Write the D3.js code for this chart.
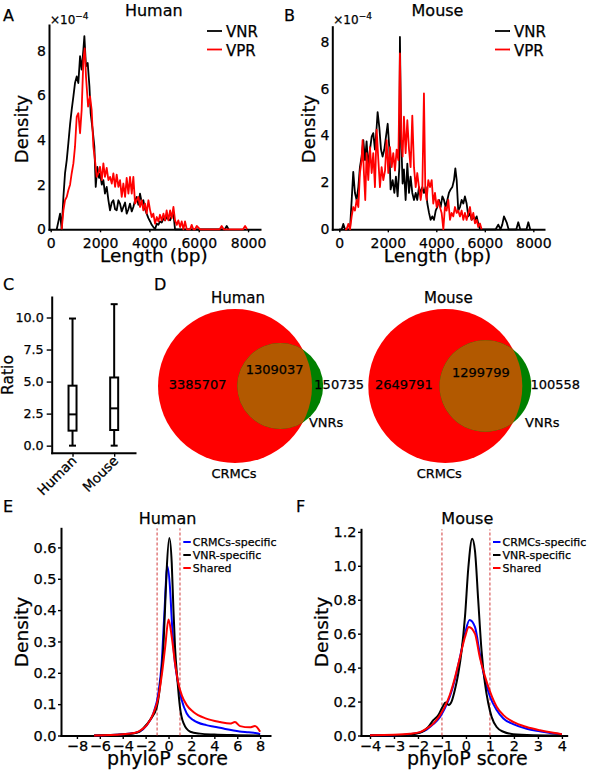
<!DOCTYPE html>
<html>
<head>
<meta charset="utf-8">
<script src="https://cdn.jsdelivr.net/npm/d3@7"></script>
<style>
  body { margin: 0; background: #fff; }
  svg text { font-family: "DejaVu Sans", sans-serif; fill: #000; stroke: #000; stroke-width: 0.25px; }
</style>
</head>
<body>
<svg id="fig" width="602" height="779"></svg>
<script>
// ---------------- data ----------------

// A / B: length density, [length bp, density x1e-4]
const humanVNR = [[245,0],[380,0.7],[445,0],[515,1.45],[580,2.5],[650,3.1],[715,3.85],[785,4.7],[850,5.35],[920,5.95],[985,6.55],[1055,6.85],[1120,6.55],[1190,7.75],[1255,7.15],[1325,8.05],[1365,8.65],[1430,7.3],[1500,7.45],[1570,6.4],[1620,5.2],[1700,4.45],[1770,3.7],[1825,1.9],[1890,2.8],[1960,2.3],[2000,2.5],[2070,2.0],[2135,2.2],[2200,1.6],[2270,1.9],[2340,1.3],[2405,0.85],[2475,1.2],[2540,1.3],[2610,0.9],[2675,0.85],[2745,1.3],[2810,1.15],[2880,0.8],[2945,1.0],[3015,1.2],[3080,0.7],[3150,0.9],[3215,1.15],[3285,0.8],[3350,1.0],[3420,1.3],[3485,1.45],[3555,1.1],[3620,1.6],[3690,1.2],[3755,1.3],[3825,0.9],[3890,0.7],[3960,0.5],[4030,0.35],[4095,0.2],[4160,0.1],[4230,0],[4300,0.25],[4365,0.2],[4430,0.35],[4500,0.3],[4570,0.5],[4635,0.4],[4700,0.55],[4770,0.45],[4840,0.4],[4905,0.6],[4975,0.7],[5040,0],[7060,0],[7135,0.15],[7210,0]];
const humanVPR = [[445,0],[515,0.85],[580,1.3],[650,1.45],[715,1.75],[785,2.0],[850,2.5],[920,2.95],[985,3.7],[1055,5.05],[1120,5.2],[1190,4.3],[1255,5.35],[1325,7.6],[1380,8.1],[1430,6.85],[1515,5.5],[1595,5.95],[1660,5.35],[1730,3.7],[1795,3.1],[1865,2.35],[1930,2.5],[2000,2.8],[2070,2.2],[2135,2.95],[2200,2.35],[2270,2.75],[2340,2.2],[2405,2.35],[2475,2.05],[2540,2.5],[2610,1.9],[2675,2.45],[2745,1.9],[2810,2.2],[2880,1.45],[2945,2.05],[3015,1.45],[3080,2.3],[3150,1.6],[3215,2.35],[3285,1.6],[3350,2.35],[3420,1.15],[3485,1.3],[3555,1.45],[3620,1.0],[3690,1.3],[3755,0.85],[3825,1.15],[3890,0.7],[3960,1.3],[4030,0.85],[4095,0.55],[4160,0.7],[4230,0.25],[4300,0.55],[4365,0.35],[4430,0.65],[4500,0.4],[4570,0.7],[4635,0.4],[4700,0.85],[4770,0.4],[4840,0.85],[4905,0.5],[4975,1.0],[5040,0.4],[5110,0.2],[5175,0.4],[5245,0.1],[5310,0.35],[5380,0],[5445,0.35],[5515,0],[5650,0],[5715,0.2],[5780,0],[5850,0],[5920,0.15],[6055,0],[6850,0],[6930,0.15],[7010,0],[7800,0],[7880,0.15],[7960,0]];
const mouseVNR = [[0,0],[100,0],[165,0.23],[235,0],[440,0],[510,1.25],[575,2.45],[645,1.55],[715,1.25],[785,1.8],[850,2.65],[920,3.1],[990,3.8],[1060,2.95],[1125,3.75],[1195,2.65],[1265,3.4],[1335,3.95],[1400,4.1],[1470,3.4],[1540,4.35],[1580,5.0],[1650,4.35],[1720,3.4],[1785,3.1],[1855,3.4],[1925,3.95],[1995,4.5],[2060,3.5],[2115,1.7],[2200,2.1],[2270,1.55],[2335,2.25],[2405,1.4],[2475,2.65],[2500,8.2],[2545,4.1],[2610,1.95],[2665,2.55],[2735,1.25],[2805,2.8],[2875,1.55],[2940,2.25],[3010,1.55],[3080,1.25],[3150,1.55],[3215,1.25],[3285,1.8],[3355,1.55],[3425,1.8],[3490,1.55],[3560,1.8],[3630,1.1],[3700,0.7],[3765,0.4],[3835,0.55],[3905,0.4],[3975,0.8],[4040,0.95],[4110,1.25],[4180,0.95],[4250,1.4],[4315,1.25],[4385,0.95],[4455,1.25],[4520,1.55],[4590,1.7],[4660,1.8],[4730,2.1],[4785,2.6],[4840,2.1],[4905,0.8],[4975,0.95],[5045,1.25],[5115,1.1],[5180,1.4],[5250,1.1],[5320,0.55],[5390,0.7],[5455,0.4],[5525,0.55],[5595,0.4],[5665,0.55],[5730,0.25],[5800,0],[6450,0],[6555,0.2],[6650,0],[6720,0.2],[6790,0.55],[6900,0.3],[6980,0],[7300,0],[7380,0.3],[7460,0],[7720,0],[7795,0.3],[7870,0]];
const mouseVPR = [[235,0],[300,0],[370,0.23],[440,0],[510,0.55],[575,0.95],[645,0.8],[715,1.25],[785,0.95],[850,2.4],[920,2.95],[960,3.8],[1015,2.4],[1070,1.25],[1125,3.25],[1195,2.1],[1265,3.5],[1335,2.4],[1400,3.25],[1470,1.8],[1540,4.25],[1610,2.95],[1675,1.8],[1745,2.65],[1815,2.1],[1885,2.5],[1950,3.8],[2020,2.4],[2090,3.5],[2160,2.65],[2225,3.25],[2295,2.5],[2365,3.4],[2435,2.95],[2500,7.5],[2555,3.8],[2610,3.1],[2665,4.8],[2735,3.25],[2805,4.65],[2875,3.4],[2940,2.65],[3010,4.85],[3080,2.65],[3150,1.8],[3215,2.4],[3285,1.8],[3355,1.25],[3425,1.8],[3490,5.8],[3545,1.8],[3600,1.25],[3670,2.1],[3740,1.8],[3810,2.1],[3875,1.1],[3945,1.55],[4015,0.95],[4080,1.25],[4150,0.95],[4220,0.7],[4290,0],[4355,0.95],[4425,0.8],[4495,1.25],[4565,0.4],[4630,0.7],[4700,0.55],[4770,0.95],[4840,0.7],[4905,0.8],[4975,0.55],[5045,0.8],[5115,0.4],[5180,0.7],[5250,0.4],[5320,0.7],[5390,0.95],[5455,0.4],[5525,0.7],[5595,0.25],[5665,0.4],[5730,0.1],[5800,0.25],[5870,0]];
const lengthSeries = ["VNR", "VPR"];
const lengthTicks = [0, 2000, 4000, 6000, 8000];
const densityTicks = [0, 2, 4, 6, 8];

// C: ratio box plots
const boxGroups = ["Human", "Mouse"];
const boxStats = [
  { min: 0, q1: 1.17, median: 2.44, q3: 4.68, max: 9.92 },
  { min: 0, q1: 1.22, median: 2.91, q3: 5.32, max: 11.04 }
];
const ratioTicks = [0, 2.5, 5, 7.5, 10];

// D: venn counts [CRMCs only, shared, VNRs only]
const vennTitles = ["Human", "Mouse"];
const vennCounts = [[3385707, 1309037, 150735], [2649791, 1299799, 100558]];

// E / F: phyloP density, [score, density]
const phyloSeries = ["CRMCs-specific", "VNR-specific", "Shared"];
const humanCRMC = [[-6.5,0],[-4,0.004],[-3,0.008],[-2.5,0.013],[-1.9,0.033],[-1.33,0.07],[-0.89,0.134],[-0.6,0.23],[-0.39,0.37],[-0.1,0.54],[0.13,0.47],[0.28,0.37],[0.48,0.26],[0.77,0.18],[1.15,0.113],[1.59,0.07],[2.17,0.049],[3.3,0.033],[4.0,0.028],[4.8,0.022],[6.2,0.013],[7.0,0.01],[7.7,0.007],[8.0,0.004]];
const humanVNRs = [[-6.5,0],[-4,0.003],[-3,0.007],[-2.5,0.013],[-2.2,0.023],[-1.6,0.05],[-1.03,0.09],[-0.68,0.18],[-0.45,0.28],[-0.3,0.41],[-0.16,0.53],[0.07,0.63],[0.28,0.55],[0.42,0.41],[0.57,0.28],[0.77,0.18],[1.0,0.09],[1.3,0.04],[1.9,0.012],[2.75,0.006],[4,0.003],[6,0.001],[8,0]];
const humanShared = [[-6.5,0],[-4,0.004],[-3,0.008],[-2.5,0.015],[-1.9,0.033],[-1.33,0.07],[-0.9,0.12],[-0.6,0.19],[-0.3,0.28],[0.0,0.37],[0.28,0.315],[0.57,0.23],[0.86,0.166],[1.15,0.129],[1.59,0.097],[2.17,0.075],[3.3,0.054],[4.5,0.043],[5.37,0.038],[5.8,0.043],[6.25,0.03],[7.1,0.026],[7.55,0.03],[8.0,0.012]];
const mouseCRMC = [[-4,0.001],[-3,0.002],[-2.33,0.008],[-1.92,0.018],[-1.64,0.035],[-1.36,0.067],[-1.08,0.11],[-0.88,0.16],[-0.67,0.23],[-0.46,0.33],[-0.25,0.46],[-0.04,0.6],[0.15,0.68],[0.375,0.64],[0.58,0.48],[0.79,0.33],[1.0,0.23],[1.28,0.15],[1.56,0.1],[1.97,0.067],[2.53,0.04],[3.08,0.025],[3.64,0.012],[4.0,0.008]];
const mouseVNRs = [[-4,0],[-3,0.001],[-2.75,0.002],[-2.2,0.008],[-1.85,0.02],[-1.57,0.05],[-1.36,0.09],[-1.15,0.12],[-0.97,0.17],[-0.85,0.195],[-0.72,0.18],[-0.6,0.2],[-0.46,0.27],[-0.32,0.365],[-0.18,0.5],[-0.04,0.7],[0.1,0.99],[0.26,1.16],[0.375,1.09],[0.51,0.8],[0.65,0.5],[0.79,0.31],[0.93,0.19],[1.07,0.11],[1.28,0.05],[1.56,0.022],[1.97,0.008],[2.8,0.002],[4,0]];
const mouseShared = [[-4,0.002],[-3,0.004],[-2.33,0.01],[-1.92,0.02],[-1.64,0.04],[-1.36,0.07],[-1.08,0.12],[-0.88,0.17],[-0.67,0.24],[-0.46,0.34],[-0.25,0.46],[-0.04,0.58],[0.12,0.64],[0.375,0.6],[0.58,0.46],[0.79,0.35],[1.0,0.26],[1.28,0.17],[1.56,0.12],[1.97,0.08],[2.53,0.05],[3.08,0.031],[3.64,0.016],[4.0,0.008]];
const humanPhyloTicks = [-8, -6, -4, -2, 0, 2, 4, 6, 8];
const humanDensTicks = [0, 0.1, 0.2, 0.3, 0.4, 0.5, 0.6];
const mousePhyloTicks = [-4, -3, -2, -1, 0, 1, 2, 3, 4];
const mouseDensTicks = [0, 0.2, 0.4, 0.6, 0.8, 1.0, 1.2];
const cutoffs = [-1, 1];

// ---------------- drawing ----------------
const FONT = "DejaVu Sans";
const svg = d3.select("#fig");
svg.append("rect").attr("width", 602).attr("height", 779).attr("fill", "#fff");

function styleAxis(g, fs) {
  g.attr("font-size", null).attr("font-family", null);
  g.select(".domain").attr("stroke-width", 2).attr("stroke-linecap", "square");
  g.selectAll(".tick line").attr("stroke-width", 1.4);
  g.selectAll("text").style("font-size", fs + "px").attr("fill", "#000");
}

function text(x, y, s, fs, anchor) {
  return svg.append("text").attr("x", x).attr("y", y)
    .style("font-size", fs + "px").attr("text-anchor", anchor || "middle").text(s);
}

function vlabel(x, y, s, fs) {
  return svg.append("text").attr("transform", `translate(${x},${y}) rotate(-90)`)
    .style("font-size", fs + "px").attr("text-anchor", "middle").text(s);
}

// panel letters
[["A", 3, 21], ["B", 284, 21], ["C", 3, 290], ["D", 154, 290], ["E", 3, 512], ["F", 296, 512]]
  .forEach(([s, x, y]) => text(x, y, s, 16, "start"));

// A and B: length density
function lengthPanel(cfg) {
  const x = d3.scaleLinear().domain(cfg.xDomain).range([cfg.left, cfg.right]);
  const y = d3.scaleLinear().domain(cfg.yDomain).range([cfg.bottom, cfg.top]);

  svg.append("g").attr("transform", `translate(0,${cfg.bottom})`)
    .call(d3.axisBottom(x).tickValues(lengthTicks).tickFormat(d3.format("d"))
      .tickSize(3).tickSizeOuter(0).tickPadding(6))
    .call(g => styleAxis(g, 14));
  svg.append("g").attr("transform", `translate(${cfg.left},0)`)
    .call(d3.axisLeft(y).tickValues(densityTicks).tickSize(0).tickPadding(3).tickSizeOuter(0))
    .call(g => styleAxis(g, 14));

  const line = d3.line().x(d => x(d[0])).y(d => y(d[1]));
  cfg.series.forEach((s, i) => {
    svg.append("path").datum(s).attr("d", line)
      .attr("fill", "none").attr("stroke", cfg.colors[i])
      .attr("stroke-width", 1.8).attr("stroke-linejoin", "round");
  });

  text(cfg.titleX, 16, cfg.title, 16);
  const off = text(cfg.left + 1, 24, "×10", 12, "start");
  off.append("tspan").attr("dy", -5).style("font-size", "9px").text("−4");
  text(cfg.titleX, 262, "Length (bp)", 18.5);
  vlabel(cfg.left - cfg.yLabelGap, 129, "Density", 18);

  lengthSeries.forEach((name, i) => {
    const ly = 31 + i * 18.5;
    svg.append("line").attr("x1", cfg.legendX).attr("x2", cfg.legendX + 15)
      .attr("y1", ly).attr("y2", ly).attr("stroke", cfg.colors[i]).attr("stroke-width", 1.8);
    text(cfg.legendX + 19, ly + 6, name, 15, "start");
  });
}

lengthPanel({
  title: "Human", series: [humanVNR, humanVPR], colors: ["#000", "#ff0000"],
  xDomain: [-69, 8484], yDomain: [0, 9.15], left: 49, right: 260, top: 25, bottom: 229.3,
  legendX: 207, titleX: 153.8, yLabelGap: 21
});
lengthPanel({
  title: "Mouse", series: [mouseVNR, mouseVPR], colors: ["#000", "#ff0000"],
  xDomain: [-289, 8441], yDomain: [0, 8.64], left: 332.3, right: 544, top: 26.7, bottom: 229.3,
  legendX: 495, titleX: 437.5, yLabelGap: 17.5
});

// C: box plot
(function () {
  const left = 51.7, right = 135, top = 297, bottom = 452.7;
  const x = d3.scalePoint().domain(boxGroups).range([left, right]).padding(0.5);
  const y = d3.scaleLinear().domain([-0.55, 11.6]).range([bottom, top]);

  svg.append("g").attr("transform", `translate(0,${bottom})`)
    .call(d3.axisBottom(x).tickSize(4).tickSizeOuter(0).tickFormat(""))
    .call(g => styleAxis(g, 13));
  svg.append("g").attr("transform", `translate(${left},0)`)
    .call(d3.axisLeft(y).tickValues(ratioTicks).tickFormat(d3.format(".1f"))
      .tickSize(5).tickPadding(3).tickSizeOuter(0))
    .call(g => styleAxis(g, 12.7));

  const bw = 8, cw = 7;
  boxGroups.forEach((name, i) => {
    const s = boxStats[i], cx = x(name);
    const g = svg.append("g").attr("stroke", "#000").attr("stroke-width", 2).attr("fill", "none");
    g.append("line").attr("x1", cx).attr("x2", cx).attr("y1", y(s.min)).attr("y2", y(s.q1));
    g.append("line").attr("x1", cx).attr("x2", cx).attr("y1", y(s.q3)).attr("y2", y(s.max));
    g.append("line").attr("x1", cx - cw / 2).attr("x2", cx + cw / 2).attr("y1", y(s.min)).attr("y2", y(s.min));
    g.append("line").attr("x1", cx - cw / 2).attr("x2", cx + cw / 2).attr("y1", y(s.max)).attr("y2", y(s.max));
    g.append("rect").attr("x", cx - bw / 2).attr("width", bw)
      .attr("y", y(s.q3)).attr("height", y(s.q1) - y(s.q3)).attr("fill", "#fff");
    g.append("line").attr("x1", cx - bw / 2).attr("x2", cx + bw / 2).attr("y1", y(s.median)).attr("y2", y(s.median));

    svg.append("text").attr("transform", `translate(${cx + 5},${bottom + 9}) rotate(-45)`)
      .style("font-size", "13.5px").attr("text-anchor", "end").text(name);
  });
  vlabel(16, 375, "Ratio", 15.5).attr("dy", "-0.2em");
})();

// D: venn diagrams (areas proportional to counts)
function overlapArea(r1, r2, d) {
  if (d >= r1 + r2) return 0;
  if (d <= Math.abs(r1 - r2)) return Math.PI * Math.min(r1, r2) ** 2;
  const a = r1 * r1 * Math.acos((d * d + r1 * r1 - r2 * r2) / (2 * d * r1));
  const b = r2 * r2 * Math.acos((d * d + r2 * r2 - r1 * r1) / (2 * d * r2));
  const c = 0.5 * Math.sqrt((-d + r1 + r2) * (d + r1 - r2) * (d - r1 + r2) * (d + r1 + r2));
  return a + b - c;
}

function venn(i, cx, cy) {
  const [aOnly, both, bOnly] = vennCounts[i];
  const totA = aOnly + both, totB = bOnly + both;
  const r = d3.scaleSqrt().domain([0, totA]).range([0, 77]);
  const r1 = r(totA), r2 = r(totB);
  const target = Math.PI * r1 * r1 * both / totA;
  let lo = Math.abs(r1 - r2), hi = r1 + r2;
  for (let k = 0; k < 60; k++) {
    const mid = (lo + hi) / 2;
    if (overlapArea(r1, r2, mid) > target) lo = mid; else hi = mid;
  }
  const d = (lo + hi) / 2, cx2 = cx + d;

  const clipId = "clipA" + i;
  svg.append("clipPath").attr("id", clipId)
    .append("circle").attr("cx", cx).attr("cy", cy).attr("r", r1);
  svg.append("circle").attr("cx", cx).attr("cy", cy).attr("r", r1).attr("fill", "#ff0000");
  svg.append("circle").attr("cx", cx2).attr("cy", cy).attr("r", r2).attr("fill", "#008000");
  svg.append("circle").attr("cx", cx2).attr("cy", cy).attr("r", r2)
    .attr("fill", "#b25900").attr("clip-path", `url(#${clipId})`);

  const leftB = cx2 - r2, rightA = cx + r1, rightB = cx2 + r2;
  text((cx - r1 + leftB) / 2, cy + 2.5, d3.format("d")(aOnly), 13);
  text((leftB + rightA) / 2, cy - 12 + i * 2.5, d3.format("d")(both), 13);
  text(rightB + 16 + i * 8, cy + 2.5, d3.format("d")(bOnly), 13);
  text(rightB + 3 + i * 8, cy + 41, "VNRs", 13);
  text(cx - 1 - i * 5, cy + 92, "CRMCs", 13);
  text(cx + 3, 303, vennTitles[i], 15);
}
venn(0, 235, 386);
venn(1, 445.3, 386);

// E and F: phyloP density
function phyloPanel(cfg) {
  const x = d3.scaleLinear().domain(cfg.xDomain).range([cfg.left, cfg.right]);
  const y = d3.scaleLinear().domain(cfg.yDomain).range([cfg.bottom, cfg.top]);

  svg.append("g").attr("transform", `translate(0,${cfg.bottom})`)
    .call(d3.axisBottom(x).tickValues(cfg.xTicks).tickFormat(d3.format("d"))
      .tickSize(3.5).tickPadding(2).tickSizeOuter(0))
    .call(g => styleAxis(g, 14.5));
  svg.append("g").attr("transform", `translate(${cfg.left},0)`)
    .call(d3.axisLeft(y).tickValues(cfg.yTicks).tickFormat(d3.format(".1f"))
      .tickSize(3).tickPadding(1.5).tickSizeOuter(0))
    .call(g => styleAxis(g, 14.5));

  cutoffs.forEach(c => {
    svg.append("line").attr("x1", x(c)).attr("x2", x(c))
      .attr("y1", y(0)).attr("y2", cfg.top)
      .attr("stroke", "#d23c3c").attr("stroke-width", 1).attr("stroke-dasharray", "3,2");
  });

  const colors = ["#0000ff", "#000000", "#ff0000"];
  const line = d3.line().x(d => x(d[0])).y(d => y(d[1])).curve(d3.curveMonotoneX);
  cfg.series.forEach((s, i) => {
    svg.append("path").datum(s).attr("d", line)
      .attr("fill", "none").attr("stroke", colors[i]).attr("stroke-width", 2);
  });

  phyloSeries.forEach((name, i) => {
    const ly = 542 + i * 13;
    svg.append("line").attr("x1", cfg.legendX).attr("x2", cfg.legendX + 7.5)
      .attr("y1", ly).attr("y2", ly).attr("stroke", colors[i]).attr("stroke-width", 2);
    text(cfg.legendX + 9.5, ly + 4, name, 11, "start");
  });

  text(cfg.titleX, 524, cfg.title, 16);
  text(cfg.titleX, 765, "phyloP score", 19);
  vlabel(cfg.left - 33, 632, "Density", 18.5);
}

phyloPanel({
  title: "Human", series: [humanCRMC, humanVNRs, humanShared],
  xDomain: [-9.39, 8.86], yDomain: [0, 0.661], left: 61, right: 270, top: 528.3, bottom: 735.5,
  xTicks: humanPhyloTicks, yTicks: humanDensTicks, legendX: 183.3, titleX: 167.5
});
phyloPanel({
  title: "Mouse", series: [mouseCRMC, mouseVNRs, mouseShared],
  xDomain: [-4.375, 4.2], yDomain: [0, 1.215], left: 361, right: 566.7, top: 529.3, bottom: 735.5,
  xTicks: mousePhyloTicks, yTicks: mouseDensTicks, legendX: 493, titleX: 467.3
});
</script>
</body>
</html>
